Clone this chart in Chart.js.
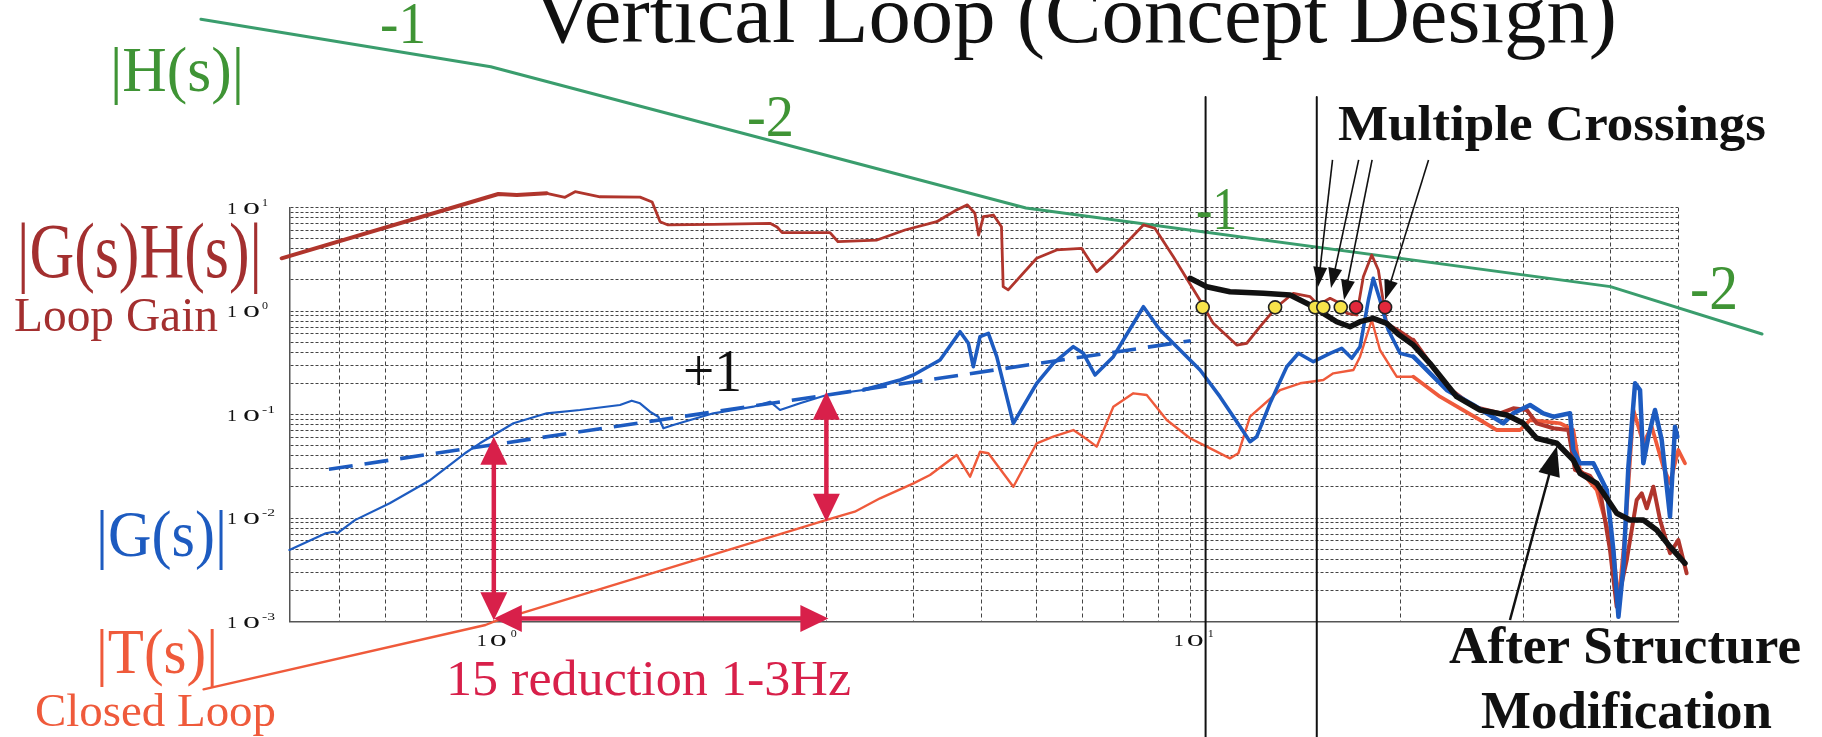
<!DOCTYPE html>
<html><head><meta charset="utf-8">
<script src="https://cdn.jsdelivr.net/npm/chart.js@4.4.1/dist/chart.umd.min.js"></script>
<style>html,body{margin:0;padding:0;background:#fff;overflow:hidden}#wrap{width:1822px;height:737px;position:relative;background:#fff}</style>
</head><body><div id="wrap"><canvas id="c" width="1822" height="737"></canvas></div>
<script>
// ---------------- data (frequency in Hz, magnitude) ----------------
const X_MIN = 0.51, X_MAX = 50;
const Y_MIN = 0.001, Y_MAX = 10;
const xGridValues = [0.6,0.7,0.8,0.9,1,2,3,4,5,6,7,8,9,10,20,30,40,50];
const yGridValues = [0.001,0.002,0.003,0.004,0.005,0.006,0.007,0.008,0.009,0.01,0.02,0.03,0.04,0.05,0.06,0.07,0.08,0.09,0.1,0.2,0.3,0.4,0.5,0.6,0.7,0.8,0.9,1,2,3,4,5,6,7,8,9,10];
const xTickExponents = [0, 1];
const yTickExponents = [1, 0, -1, -2, -3];

// |H(s)| controller asymptote
const hFreq = [0.38, 0.99, 5.8, 40, 66];
const hMag  = [658, 229, 9.9, 1.72, 0.60];

// |G(s)H(s)| loop gain
const ghFreq = [0.496,1.015,1.079,1.191,1.265,1.308,1.42,1.621,1.687,1.732,1.778,2.063,2.49,2.549,2.592,3.036,3.118,3.546,3.89,4.32,4.61,4.78,4.90,4.96,5.04,5.21,5.35,5.38,5.47,6.01,6.42,6.97,7.33,7.74,8.55,8.88,9.44,10.37,10.77,11.64,12.03,12.57,13.29,14.03,14.83,15.24,15.84,16.37,16.74,17.30,17.68,18.18,18.58,19.10,19.96,20.86,23.29,25.43,27.77,29.02,30.34,31.35,33.13,34.80,35.58,37.39,38.64,39.94,40.83,42.21,43.62,44.36,45.10,46.09,47.12,48.70,50.05,51.45];
const ghMag  = [3.23,13.5,13.2,13.7,12.55,14.2,12.7,12.6,11.3,7.29,6.78,6.88,7.03,6.48,5.71,5.71,4.67,4.85,6.06,7.29,9.46,10.6,8.79,5.42,8.15,8.46,6.52,1.72,1.60,3.23,3.89,4.03,2.40,3.35,6.78,6.30,3.35,1.187,0.760,0.469,0.488,0.705,1.10,1.483,1.375,1.143,1.326,1.187,0.950,0.915,2.145,3.48,2.49,0.760,0.641,0.525,0.1856,0.119,0.1027,0.1148,0.1105,0.0822,0.0736,0.0708,0.0291,0.0255,0.01865,0.00491,0.00139,0.00393,0.01493,0.01732,0.01241,0.02006,0.00957,0.00456,0.00613,0.00292];

// |G(s)| plant
const gFreq = [0.509,0.574,0.590,0.596,0.632,0.709,0.811,0.909,0.955,1.0,1.067,1.191,1.329,1.517,1.577,1.621,1.675,1.722,1.751,1.809,2.065,2.357,2.49,2.574,2.75,3.003,3.389,3.826,4.0,4.367,4.666,4.796,4.875,4.984,5.123,5.267,5.564,6.01,6.348,6.783,7.011,7.287,7.742,8.551,9.033,9.65,10.31,11.01,11.77,12.16,12.43,12.99,13.73,14.27,14.99,15.84,16.46,17.02,17.49,17.98,18.27,18.68,19.2,19.96,20.86,23.29,25.43,28.07,29.02,30.67,32.04,33.13,35.0,35.38,36.17,37.81,39.52,40.39,41.07,41.75,42.44,43.39,44.11,44.59,45.34,46.34,47.38,48.7,49.51,49.89];
const gMag  = [0.00491,0.00712,0.00737,0.00712,0.00954,0.01387,0.0233,0.0422,0.0527,0.0634,0.0822,0.1027,0.1105,0.1236,0.1359,0.1283,0.1064,0.0952,0.0736,0.0792,0.1027,0.119,0.133,0.1105,0.1283,0.1543,0.1724,0.2154,0.2407,0.336,0.631,0.4875,0.2895,0.5646,0.609,0.3619,0.0822,0.2002,0.3125,0.4518,0.3903,0.2407,0.3619,1.10,0.6554,0.4199,0.2692,0.1486,0.0762,0.0546,0.061,0.1283,0.2895,0.3903,0.3236,0.3903,0.4362,0.3491,0.4518,1.277,2.07,1.277,0.6554,0.3903,0.3619,0.1724,0.1236,0.0822,0.1027,0.1236,0.1027,0.0952,0.1027,0.0454,0.0338,0.0338,0.01865,0.00491,0.00111,0.00338,0.0313,0.2002,0.1724,0.0338,0.061,0.1105,0.0567,0.0103,0.0762,0.061];

// +1 slope asymptote of |G(s)|
const slopeFreq = [0.58, 10.0];
const slopeMag  = [0.0296, 0.516];

// |T(s)| closed loop
const tFreq = [0.3833,0.973,1.0,3.003,3.295,3.582,4.0,4.225,4.614,4.822,4.984,5.123,5.564,6.01,6.348,6.783,7.011,7.328,7.742,8.27,8.645,9.235,9.975,10.54,11.38,11.7,12.16,13.43,14.35,15.49,16.01,17.11,17.49,18.18,18.68,19.74,20.86,22.78,26.0,27.48,29.68,30.67,33.86,35.38,36.17,38.23,40.39,41.07,41.98,43.15,44.59,45.84,47.63,48.7,50.05,51.17];
const tMag  = [0.000221,0.000925,0.000996,0.00957,0.0115,0.0155,0.02164,0.026,0.0406,0.02506,0.0437,0.0422,0.02006,0.0527,0.061,0.0708,0.061,0.0489,0.119,0.1602,0.1543,0.0885,0.0589,0.0489,0.0377,0.0422,0.0952,0.1724,0.2002,0.2154,0.25,0.2692,0.3619,0.8185,0.4199,0.2318,0.2318,0.1486,0.0885,0.0708,0.0708,0.0885,0.0822,0.0708,0.0291,0.01865,0.00491,0.0015,0.00712,0.1105,0.0527,0.0762,0.0313,0.02164,0.0454,0.0338];

// loop gain after structure modification
const modFreq = [9.975,10.54,11.38,12.71,13.88,14.83,15.49,16.19,16.92,17.49,18.27,19.1,19.83,20.86,22.03,24.07,26.0,28.4,29.99,31.35,33.5,35.38,36.17,38.23,40.84,42.67,44.59,46.6,48.7,51.17];
const modMag  = [2.07,1.717,1.536,1.483,1.427,1.143,0.95,0.788,0.705,0.788,0.85,0.76,0.5995,0.469,0.3125,0.1486,0.1105,0.0989,0.0822,0.0589,0.0527,0.0363,0.027,0.02164,0.0111,0.00957,0.00957,0.00766,0.00528,0.00365];

// unity-gain crossings
const crossFreq = [10.4, 13.21, 15.08, 15.49, 16.41, 17.26, 19.0];
const crossMag  = [1.085, 1.085, 1.085, 1.085, 1.085, 1.085, 1.085];
const crossKind = ['before','before','before','before','before','after','after'];

// vertical marker lines (Hz) and their extent
const markerFreq = [10.5, 15.16];
const markerMag  = [117, 0.00006];

// annotation arrows in data space [f1, m1, f2, m2]
const reductionArrows = [[1.0, 0.061, 1.0, 0.00103], [1.0, 0.00107, 3.02, 0.00107], [3.0, 0.166, 3.0, 0.0092]];
const crossingArrows = [[15.97, 28.8, 15.22, 1.705], [17.41, 28.8, 15.89, 1.668], [18.20, 28.8, 16.59, 1.277], [21.93, 28.8, 19.0, 1.277]];
const structureArrow = [28.7, 0.001034, 33.52, 0.0496];

// ---------------- styling ----------------
const C = { green:'#3a9d6d', greenText:'#3f9435', gh:'#b0352c', ghText:'#a32f2f', blue:'#1d5bc0', orange:'#ef5a3b', crimson:'#d8204a', black:'#111111' };
const SERIF = '"Liberation Serif","Times New Roman",serif';
const TEXTS = [
  {t:'Vertical Loop (Concept Design)', x:532, y:42, s:82, w:1085, c:C.black},
  {t:'|H(s)|', x:110, y:91, s:63, w:134, c:C.greenText},
  {t:'-1', x:380, y:43, s:60, w:46, c:C.greenText},
  {t:'-2', x:747, y:136, s:59, w:47, c:C.greenText},
  {t:'-1', x:1196, y:229, s:62, w:41, c:C.greenText},
  {t:'-2', x:1690, y:309, s:64, w:48, c:C.greenText},
  {t:'|G(s)H(s)|', x:17, y:277, s:78, w:245, c:C.ghText},
  {t:'Loop Gain', x:14, y:331, s:48, w:204, c:C.ghText},
  {t:'+1', x:683, y:391, s:62, w:59, c:C.black},
  {t:'|G(s)|', x:96, y:556, s:66, w:131, c:C.blue},
  {t:'|T(s)|', x:96, y:673, s:64, w:122, c:C.orange},
  {t:'Closed Loop', x:35, y:726, s:46, w:241, c:C.orange},
  {t:'15 reduction 1-3Hz', x:446, y:695, s:50, w:405, c:C.crimson},
  {t:'Multiple Crossings', x:1338, y:140, s:50, w:428, c:C.black, b:true},
  {t:'After Structure', x:1449, y:663, s:53, w:352, c:C.black, b:true},
  {t:'Modification', x:1481, y:728, s:53, w:291, c:C.black, b:true}
];

function pts(fs, ms) { return fs.map((f, i) => ({x: f, y: ms[i]})); }

function drawText(ctx, s, x, y, size, width, color, bold) {
  ctx.save();
  ctx.font = (bold ? 'bold ' : '') + size + 'px ' + SERIF;
  ctx.fillStyle = color;
  ctx.textAlign = 'left';
  ctx.textBaseline = 'alphabetic';
  const w = ctx.measureText(s).width;
  ctx.translate(x, y);
  if (width && w > 0) ctx.scale(width / w, 1);
  ctx.fillText(s, 0, 0);
  ctx.restore();
}
function head(ctx, x, y, a, hl, hw) {
  const c = Math.cos(a), s = Math.sin(a);
  ctx.beginPath();
  ctx.moveTo(x, y);
  ctx.lineTo(x - hl * c + hw / 2 * s, y - hl * s - hw / 2 * c);
  ctx.lineTo(x - hl * c - hw / 2 * s, y - hl * s + hw / 2 * c);
  ctx.closePath();
  ctx.fill();
}
function arrow(ctx, x1, y1, x2, y2, lw, hl, hw, color, both) {
  const a = Math.atan2(y2 - y1, x2 - x1);
  const c = Math.cos(a), s = Math.sin(a);
  ctx.save();
  ctx.strokeStyle = color; ctx.fillStyle = color; ctx.lineWidth = lw; ctx.lineCap = 'butt';
  ctx.beginPath();
  const k = hl * 0.7;
  ctx.moveTo(both ? x1 + k * c : x1, both ? y1 + k * s : y1);
  ctx.lineTo(x2 - k * c, y2 - k * s);
  ctx.stroke();
  head(ctx, x2, y2, a, hl, hw);
  if (both) head(ctx, x1, y1, a + Math.PI, hl, hw);
  ctx.restore();
}

const annotPlugin = {
  id: 'annot',
  afterDatasetsDraw(chart) {
    const ctx = chart.ctx, xs = chart.scales.x, ys = chart.scales.y;
    const P = (f, m) => [xs.getPixelForValue(f), ys.getPixelForValue(m)];
    // tick labels
    yTickExponents.forEach(e => {
      const py = ys.getPixelForValue(Math.pow(10, e));
      drawText(ctx, '1', 227, py + 6, 17, 10, C.black);
      drawText(ctx, '0', 243, py + 6, 17, 17, C.black);
      drawText(ctx, String(e), 262, py - 2, 11, e < 0 ? 13 : 6, C.black);
    });
    xTickExponents.forEach(e => {
      const px = xs.getPixelForValue(Math.pow(10, e));
      drawText(ctx, '1', px - 17, 646, 17, 10, C.black);
      drawText(ctx, '0', px - 4, 646, 17, 17, C.black);
      drawText(ctx, String(e), px + 17, 637, 11, 6, C.black);
    });
    // red reduction arrows
    reductionArrows.forEach(r => {
      const [x1, y1] = P(r[0], r[1]), [x2, y2] = P(r[2], r[3]);
      arrow(ctx, x1, y1, x2, y2, 4.5, 28, 27, C.crimson, true);
    });
    // crossing arrows
    crossingArrows.forEach(r => {
      const [x1, y1] = P(r[0], r[1]), [x2, y2] = P(r[2], r[3]);
      arrow(ctx, x1, y1, x2, y2, 1.6, 20, 14, C.black, false);
    });
    {
      const r = structureArrow;
      const [x1, y1] = P(r[0], r[1]), [x2, y2] = P(r[2], r[3]);
      arrow(ctx, x1, y1, x2, y2, 2.5, 30, 22, C.black, false);
    }
    TEXTS.forEach(T => drawText(ctx, T.t, T.x, T.y, T.s, T.w, T.c, T.b));
  }
};

const datasets = [
  {label:'Crossings', data: pts(crossFreq, crossMag), showLine:false, pointRadius:6.5,
   pointBackgroundColor: c => crossKind[c.dataIndex] === 'after' ? '#e1283b' : '#f6e34a',
   pointBorderColor:'#222', pointBorderWidth:1.6, order:0, clip:false},
  {label:'After Structure Modification', data: pts(modFreq, modMag), borderColor:C.black, borderWidth:5.5, order:1, clip:false},
  {label:'Marker A', data: pts([markerFreq[0], markerFreq[0]], markerMag), borderColor:C.black, borderWidth:2, order:2, clip:false},
  {label:'Marker B', data: pts([markerFreq[1], markerFreq[1]], markerMag), borderColor:C.black, borderWidth:2, order:2, clip:false},
  {label:'|G(s)|', data: pts(gFreq, gMag), borderColor:C.blue, order:3, clip:false,
   segment:{ borderWidth: c => c.p0.parsed.x < 3.3 ? 2.2 : (c.p0.parsed.x > 20 ? 4.5 : 3.6) }},
  {label:'|G(s)H(s)|', data: pts(ghFreq, ghMag), borderColor:C.gh, order:4, clip:false,
   segment:{ borderWidth: c => c.p0.parsed.x < 1.1 ? 4 : (c.p0.parsed.x > 20 ? 4 : 2.8) }},
  {label:'|T(s)|', data: pts(tFreq, tMag), borderColor:C.orange, order:5, clip:false,
   segment:{ borderWidth: c => c.p0.parsed.x > 20 ? 3.8 : 2.4 }},
  {label:'+1 slope', data: pts(slopeFreq, slopeMag), borderColor:C.blue, borderWidth:3.6, borderDash:[24,12], borderCapStyle:'butt', order:6, clip:false},
  {label:'|H(s)|', data: pts(hFreq, hMag), borderColor:C.green, borderWidth:3, order:7, clip:false}
];

new Chart(document.getElementById('c'), {
  type: 'line',
  data: { datasets },
  options: {
    responsive:false, animation:false, devicePixelRatio:1, events:[],
    layout:{ padding:{ left:290, right:144, top:207.5, bottom:115.5 } },
    plugins:{ legend:{display:false}, tooltip:{enabled:false}, title:{display:false} },
    elements:{ point:{radius:0}, line:{tension:0, borderCapStyle:'round', borderJoinStyle:'round', fill:false} },
    scales:{
      x:{ type:'logarithmic', bounds:'data',
          afterDataLimits: s => { s.min = X_MIN; s.max = X_MAX; },
          afterBuildTicks: s => { s.ticks = xGridValues.map(v => ({value:v})); },
          afterFit: s => { s.height = 0; },
          ticks:{display:false},
          grid:{color:'#444', lineWidth:1, drawTicks:false},
          border:{display:true, color:'#555', width:1.5, dash:[4,3]} },
      y:{ type:'logarithmic', bounds:'data',
          afterDataLimits: s => { s.min = Y_MIN; s.max = Y_MAX; },
          afterBuildTicks: s => { s.ticks = yGridValues.map(v => ({value:v})); },
          afterFit: s => { s.width = 0; },
          ticks:{display:false},
          grid:{color:'#444', lineWidth:1, drawTicks:false},
          border:{display:true, color:'#555', width:1.5, dash:[3,2]} }
    }
  },
  plugins:[annotPlugin]
});
</script></body></html>
